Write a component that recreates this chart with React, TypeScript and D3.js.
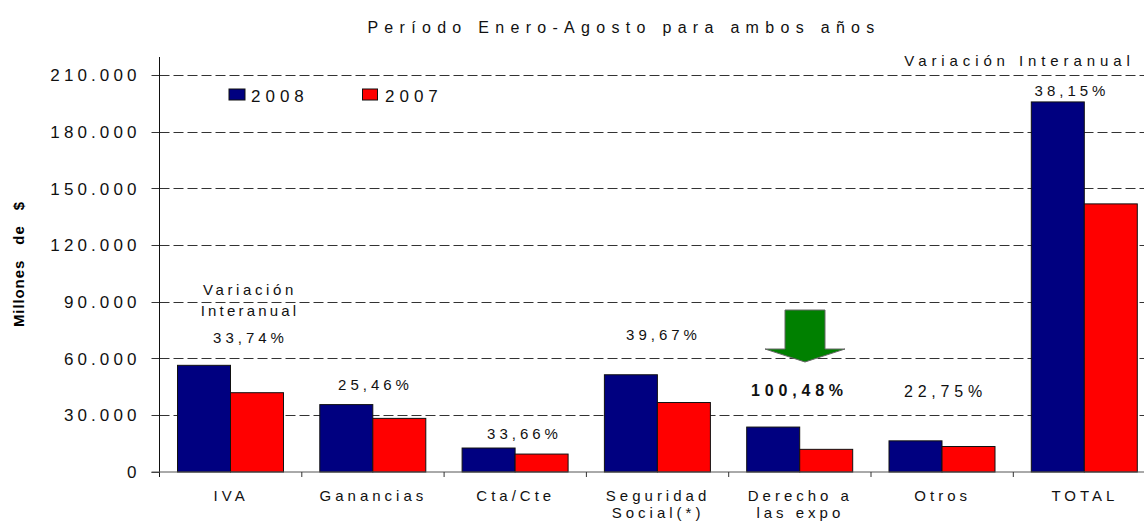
import React from 'react';
import * as d3 from 'd3';

const categories = ['IVA', 'Ganancias', 'Cta/Cte', 'Seguridad|Social(*)', 'Derecho a|las expo', 'Otros', 'TOTAL'];
const values2008 = [56500, 35700, 12700, 51500, 23800, 16500, 196000];
const values2007 = [42000, 28400, 9500, 36800, 12000, 13500, 142000];
const yTicks = [0, 30000, 60000, 90000, 120000, 150000, 180000, 210000];
const tickLabels = ['0', '30.000', '60.000', '90.000', '120.000', '150.000', '180.000', '210.000'];
const NAVY = '#000080';
const RED = '#ff0000';
const FONT = '"Liberation Sans", Arial, sans-serif';

const notes = [
  { text: 'Variación', x: 250, y: 295, size: 15, ls: 3.6 },
  { text: 'Interanual', x: 250, y: 316, size: 15, ls: 3.2 },
  { text: '33,74%', x: 250.5, y: 343, size: 15, ls: 4 },
  { text: '25,46%', x: 375.5, y: 390, size: 15, ls: 4 },
  { text: '33,66%', x: 524.5, y: 439, size: 15, ls: 4 },
  { text: '39,67%', x: 663.5, y: 340, size: 15, ls: 4 },
  { text: '100,48%', x: 799.5, y: 396, size: 16, ls: 4.8, bold: true },
  { text: '22,75%', x: 945.5, y: 397, size: 16, ls: 4.8 },
  { text: 'Variación Interanual', x: 1019.5, y: 66, size: 15, ls: 4.9 },
  { text: '38,15%', x: 1072, y: 96, size: 15, ls: 4 },
];

export default function App() {
  const x0 = 159.5;
  const step = 142.3;
  const y = d3.scaleLinear().domain([0, 210000]).range([472, 75.5]);
  const x = d3.scaleBand<number>().domain(d3.range(categories.length)).range([x0, x0 + step * categories.length]).paddingInner(0).paddingOuter(0);
  const inner = d3.scaleBand<string>().domain(['2008', '2007']).range([18, step - 18.3]);
  const arrow = d3.line()([[785, 310], [825, 310], [825, 349], [845, 349], [805, 362], [765, 349], [785, 349]]) + 'Z';
  const crisp = (v: number) => Math.floor(v) + 0.5;
  return (
    <svg width={1144} height={521} style={{ position: 'absolute', left: 0, top: 0, background: '#fff' }} fontFamily={FONT}>
      <text x={624} y={33} textAnchor="middle" fontSize={16} letterSpacing={6.3} fill="#111">Período Enero-Agosto para ambos años</text>
      <text transform="translate(23.5,264) rotate(-90)" textAnchor="middle" fontSize={15} fontWeight="bold" letterSpacing={0.9} fill="#000" style={{ whiteSpace: 'pre' }}>Millones   de   $</text>
      {yTicks.map((t, i) => (
        <g key={t}>
          {t > 0 && <line x1={x0} x2={1144} y1={crisp(y(t))} y2={crisp(y(t))} stroke="#333" strokeWidth={1} strokeDasharray="10 4" />}
          <line x1={151.5} x2={x0} y1={crisp(y(t))} y2={crisp(y(t))} stroke="#333" />
          <text x={140.5} y={y(t) + 5.8} textAnchor="end" fontSize={17} letterSpacing={4.1} fill="#111">{tickLabels[i]}</text>
        </g>
      ))}
      {categories.map((c, i) => {
        const cx = x(i)!;
        return (
          <g key={c}>
            <rect x={cx + inner('2008')!} y={y(values2008[i])} width={inner.bandwidth()} height={y(0) - y(values2008[i])} fill={NAVY} stroke="#111" strokeWidth={1} />
            <rect x={cx + inner('2007')!} y={y(values2007[i])} width={inner.bandwidth()} height={y(0) - y(values2007[i])} fill={RED} stroke="#111" strokeWidth={1} />
            {c.split('|').map((l, j) => (
              <text key={l} x={cx + step / 2 + 0.5} y={501 + j * 17} textAnchor="middle" fontSize={15} letterSpacing={4} fill="#111">{l}</text>
            ))}
          </g>
        );
      })}
      <line x1={x0} x2={x0} y1={57} y2={477} stroke="#111" />
      <line x1={151.5} x2={1144} y1={472} y2={472} stroke="#555" />
      {d3.range(1, categories.length + 1).map(i => (
        <line key={i} x1={x0 + step * i} x2={x0 + step * i} y1={472} y2={477} stroke="#333" />
      ))}
      <path d={arrow} fill="#008000" stroke="#666" strokeWidth={1} />
      <rect x={229} y={89} width={16} height={11} fill={NAVY} stroke="#111" />
      <text x={251} y={102} fontSize={17} letterSpacing={5} fill="#111">2008</text>
      <rect x={362.5} y={89} width={15} height={11} fill={RED} stroke="#111" />
      <text x={385} y={102} fontSize={17} letterSpacing={5} fill="#111">2007</text>
      {notes.map(n => (
        <text key={n.text} x={n.x} y={n.y} textAnchor="middle" fontSize={n.size} letterSpacing={n.ls} fontWeight={n.bold ? 'bold' : 'normal'} fill="#111">{n.text}</text>
      ))}
    </svg>
  );
}
